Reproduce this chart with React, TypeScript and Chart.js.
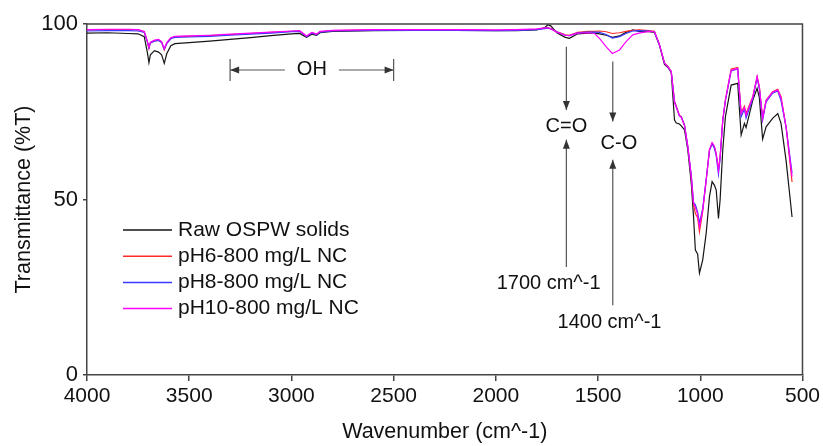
import React, { useEffect, useRef } from "react";
import { Chart, registerables } from "chart.js";

Chart.register(...registerables);

const FONT = "'Liberation Sans', Arial, sans-serif";

// Wavenumbers (cm^-1), descending
const wavenumbers = [
  4000, 3900, 3800, 3750, 3720, 3705, 3697, 3690, 3670, 3650, 3635, 3622, 3610, 3590, 3570,
  3500, 3400, 3300, 3200, 3100, 3000, 2960, 2926, 2900, 2877, 2860, 2800, 2600, 2400, 2200,
  2000, 1900, 1800, 1760, 1745, 1730, 1700, 1660, 1640, 1600, 1550, 1517, 1493, 1460, 1430,
  1395, 1363, 1330, 1300, 1250, 1224, 1200, 1175, 1158, 1142, 1126, 1117, 1102, 1093, 1077,
  1061, 1044, 1033, 1024, 1013, 1004, 988, 971, 955, 942, 931, 922, 911, 903, 890,
  877, 849, 817, 800, 784, 776, 743, 722, 711, 695, 678, 646, 621, 605, 580, 551,
];

const rawOSPW = [
  97.4, 97.5, 97.3, 97.2, 96.4, 92.0, 89.0, 91.2, 92.4, 92.0, 91.2, 88.8, 91.5, 93.8, 94.4,
  94.7, 95.1, 95.6, 96.1, 96.7, 97.2, 97.3, 96.2, 97.1, 96.8, 97.5, 97.9, 98.1, 98.2, 98.2,
  98.1, 98.1, 98.3, 99.0, 99.8, 99.4, 97.4, 96.2, 95.9, 97.2, 97.4, 97.4, 97.2, 96.8, 96.2,
  96.6, 97.6, 98.3, 97.9, 97.8, 97.6, 94.0, 88.5, 87.6, 86.2, 72.6, 71.8, 71.5, 71.0, 69.8,
  64.1, 54.6, 45.1, 35.6, 34.5, 29.0, 32.8, 40.4, 50.8, 55.1, 54.1, 52.7, 44.6, 49.9, 64.1,
  73.6, 82.6, 83.1, 68.4, 71.7, 70.5, 78.3, 81.7, 79.0, 67.2, 70.7, 73.1, 74.5, 71.7, 61.0, 45.0,
];

const pH6 = [
  98.3, 98.4, 98.4, 98.3, 97.8, 95.0, 93.0, 94.6, 95.2, 95.4, 94.8, 92.6, 94.5, 96.0, 96.4,
  96.5, 96.7, 97.0, 97.3, 97.6, 97.9, 98.0, 96.5, 97.5, 97.0, 97.8, 98.1, 98.3, 98.3, 98.3,
  98.2, 98.3, 98.5, 98.8, 98.9, 98.7, 97.8, 96.9, 96.8, 97.6, 97.9, 97.9, 98.0, 97.8, 97.3,
  97.5, 97.9, 98.2, 98.3, 98.1, 97.9, 94.2, 88.9, 87.9, 86.5, 78.0, 76.6, 74.0, 73.6, 71.2,
  65.0, 56.3, 48.5, 46.0, 44.8, 40.8, 46.6, 55.4, 64.1, 66.0, 65.0, 63.1, 58.4, 62.2, 72.6,
  78.3, 87.2, 87.6, 74.8, 76.6, 74.5, 79.3, 85.0, 82.1, 73.3, 78.3, 80.7, 81.4, 79.3, 70.5, 55.0,
];

const pH8 = [
  98.0, 98.1, 98.1, 98.0, 97.6, 95.0, 93.2, 94.6, 95.1, 95.3, 94.7, 92.8, 94.4, 95.8, 96.2,
  96.3, 96.5, 96.8, 97.1, 97.4, 97.8, 97.9, 96.4, 97.4, 97.0, 97.7, 98.0, 98.2, 98.2, 98.2,
  98.1, 98.2, 98.4, 98.7, 98.8, 98.6, 97.7, 96.8, 96.7, 97.5, 97.7, 97.7, 97.6, 97.0, 96.0,
  96.4, 97.3, 98.0, 98.1, 98.0, 97.8, 94.1, 88.8, 87.8, 86.4, 77.8, 76.4, 73.8, 73.5, 71.2,
  65.0, 56.8, 49.2, 48.5, 46.5, 43.3, 47.5, 55.8, 64.0, 65.8, 64.6, 62.5, 57.2, 61.6, 72.4,
  78.2, 86.6, 87.2, 73.6, 75.8, 73.2, 78.8, 84.6, 81.6, 72.6, 77.8, 80.3, 80.9, 78.2, 70.5, 57.5,
];

const pH10 = [
  98.4, 98.5, 98.5, 98.4, 97.9, 95.2, 93.3, 94.8, 95.4, 95.6, 95.0, 93.0, 94.7, 96.1, 96.5,
  96.6, 96.8, 97.1, 97.4, 97.7, 98.0, 98.1, 96.6, 97.6, 97.1, 97.9, 98.2, 98.4, 98.4, 98.4,
  98.3, 98.4, 98.6, 98.9, 98.9, 98.6, 97.6, 96.8, 96.7, 97.4, 97.5, 97.3, 95.9, 93.5, 91.6,
  92.6, 95.0, 96.9, 97.4, 97.9, 97.8, 94.2, 88.8, 87.8, 86.4, 77.6, 76.2, 73.8, 73.4, 71.0,
  65.2, 56.6, 48.9, 47.8, 45.8, 42.2, 47.0, 55.6, 64.2, 66.2, 65.2, 63.0, 58.2, 62.0, 72.5,
  78.4, 86.8, 87.3, 74.4, 76.2, 74.0, 79.2, 85.0, 82.0, 73.0, 78.2, 80.6, 81.2, 79.0, 70.6, 56.5,
];

const seriesLabels = ["Raw OSPW solids", "pH6-800 mg/L NC", "pH8-800 mg/L NC", "pH10-800 mg/L NC"];
const seriesValues = [rawOSPW, pH6, pH8, pH10];
const seriesColors = ["#151515", "#ff2a2a", "#3a3aff", "#ff00ff"];

const xTickValues = [4000, 3500, 3000, 2500, 2000, 1500, 1000, 500];
const yTickValues = [0, 50, 100];

// Annotations (data units)
const ohRange = [3300, 2500];
const ohLevel = 86.9;
const peakMarks = [
  { wn: 1655, label: "C=O", labelWn: 1655, labelT: 70.7, downFrom: 93.5, downTo: 75.5, upFrom: 30.8, upTo: 67.0, note: "1700 cm^-1", noteWn: 1742, noteT: 26.2 },
  { wn: 1428, label: "C-O", labelWn: 1398, labelT: 66.0, downFrom: 89.3, downTo: 72.2, upFrom: 19.9, upTo: 61.3, note: "1400 cm^-1", noteWn: 1444, noteT: 15.1 },
];

function drawArrow(ctx: CanvasRenderingContext2D, x1: number, y1: number, x2: number, y2: number) {
  ctx.beginPath();
  ctx.moveTo(x1, y1);
  ctx.lineTo(x2, y2);
  ctx.stroke();
  const ang = Math.atan2(y2 - y1, x2 - x1);
  const len = 9, hw = 3.5;
  ctx.beginPath();
  ctx.moveTo(x2, y2);
  ctx.lineTo(x2 - len * Math.cos(ang) + hw * Math.sin(ang), y2 - len * Math.sin(ang) - hw * Math.cos(ang));
  ctx.lineTo(x2 - len * Math.cos(ang) - hw * Math.sin(ang), y2 - len * Math.sin(ang) + hw * Math.cos(ang));
  ctx.closePath();
  ctx.fill();
}

const annotationPlugin = {
  id: "ftirAnnotations",
  afterDatasetsDraw(chart: any) {
    const { ctx, scales } = chart;
    const x = scales.x, y = scales.y;
    const px = (v: number) => x.getPixelForValue(v);
    const py = (v: number) => y.getPixelForValue(v);
    ctx.save();
    ctx.font = `20px ${FONT}`;
    ctx.textAlign = "center";
    ctx.textBaseline = "middle";
    ctx.lineWidth = 1.2;
    ctx.strokeStyle = "#555";
    ctx.fillStyle = "#333";

    // OH range
    const xl = px(ohRange[0]), xr = px(ohRange[1]), yo = py(ohLevel);
    const xm = (xl + xr) / 2;
    const tw = ctx.measureText("OH").width;
    ctx.beginPath();
    ctx.moveTo(xl, yo - 11); ctx.lineTo(xl, yo + 11);
    ctx.moveTo(xr, yo - 11); ctx.lineTo(xr, yo + 11);
    ctx.stroke();
    drawArrow(ctx, xm - tw / 2 - 12, yo, xl, yo);
    drawArrow(ctx, xm + tw / 2 + 12, yo, xr, yo);
    ctx.fillStyle = "#111";
    ctx.fillText("OH", xm, yo);

    for (const m of peakMarks) {
      const xp = px(m.wn);
      ctx.fillStyle = "#333";
      drawArrow(ctx, xp, py(m.downFrom), xp, py(m.downTo));
      drawArrow(ctx, xp, py(m.upFrom), xp, py(m.upTo));
      ctx.fillStyle = "#111";
      ctx.fillText(m.label, px(m.labelWn), py(m.labelT));
      ctx.fillText(m.note, px(m.noteWn), py(m.noteT));
    }
    ctx.restore();
  },
  afterDraw(chart: any) {
    const { ctx, chartArea } = chart;
    ctx.save();
    // frame
    ctx.strokeStyle = "#444";
    ctx.lineWidth = 1.5;
    ctx.beginPath();
    ctx.moveTo(chartArea.left, chartArea.top);
    ctx.lineTo(chartArea.right, chartArea.top);
    ctx.lineTo(chartArea.right, chartArea.bottom);
    ctx.stroke();
    // legend
    ctx.font = `21px ${FONT}`;
    ctx.textAlign = "left";
    ctx.textBaseline = "middle";
    const lx0 = chartArea.left + 36, lx1 = chartArea.left + 85, tx = chartArea.left + 91;
    chart.data.datasets.forEach((ds: any, i: number) => {
      const ly = 230 + i * 26.2;
      ctx.strokeStyle = ds.borderColor;
      ctx.lineWidth = 1.5;
      ctx.beginPath();
      ctx.moveTo(lx0, ly);
      ctx.lineTo(lx1, ly);
      ctx.stroke();
      ctx.fillStyle = "#111";
      ctx.fillText(ds.label, tx, ly);
    });
    ctx.restore();
  },
};

export default function App() {
  const canvasRef = useRef<HTMLCanvasElement | null>(null);

  useEffect(() => {
    if (!canvasRef.current) return;
    const datasets = seriesLabels.map((label, i) => ({
      label,
      data: wavenumbers.map((w, j) => ({ x: w, y: seriesValues[i][j] })),
      borderColor: seriesColors[i],
      backgroundColor: seriesColors[i],
      borderWidth: 1.2,
      pointRadius: 0,
      tension: 0,
      fill: false,
      order: seriesLabels.length - i,
    }));

    const chart = new Chart(canvasRef.current, {
      type: "line",
      data: { datasets },
      options: {
        animation: false,
        responsive: false,
        events: [],
        layout: { padding: { top: 24, right: 20, left: 0, bottom: 0 } },
        plugins: { legend: { display: false }, tooltip: { enabled: false } },
        scales: {
          x: {
            type: "linear",
            reverse: true,
            min: 500,
            max: 4000,
            afterFit: (s: any) => { s.height = 71; },
            afterBuildTicks: (s: any) => { s.ticks = xTickValues.map((v) => ({ value: v })); },
            ticks: {
              stepSize: 500,
              padding: 3,
              color: "#111",
              font: { size: 21, family: FONT },
              maxRotation: 0,
              callback: (v: any) => String(v),
            },
            grid: { drawOnChartArea: false, drawTicks: true, tickLength: 6, color: "#444", lineWidth: 1.5 },
            border: { display: true, color: "#444", width: 1.5 },
            title: {
              display: true,
              text: "Wavenumber (cm^-1)",
              color: "#111",
              font: { size: 21.5, family: FONT },
              padding: { top: 0, bottom: 1 },
            },
          },
          y: {
            min: 0,
            max: 100,
            afterFit: (s: any) => { s.width = 87; },
            afterBuildTicks: (s: any) => { s.ticks = yTickValues.map((v) => ({ value: v })); },
            ticks: {
              stepSize: 50,
              padding: 5,
              color: "#111",
              font: { size: 22, family: FONT },
              callback: (v: any) => String(v),
            },
            grid: { drawOnChartArea: false, drawTicks: true, tickLength: 4, color: "#444", lineWidth: 1.5 },
            border: { display: true, color: "#444", width: 1.5 },
            title: {
              display: true,
              text: "Transmittance (%T)",
              color: "#111",
              font: { size: 21.5, family: FONT },
              padding: { top: 11, bottom: 0 },
            },
          },
        },
      },
      plugins: [annotationPlugin],
    } as any);

    return () => chart.destroy();
  }, []);

  return (
    <div style={{ position: "fixed", left: 0, top: 0, width: 823, height: 446, background: "#fff" }}>
      <canvas ref={canvasRef} width={823} height={446} style={{ display: "block" }} />
    </div>
  );
}
